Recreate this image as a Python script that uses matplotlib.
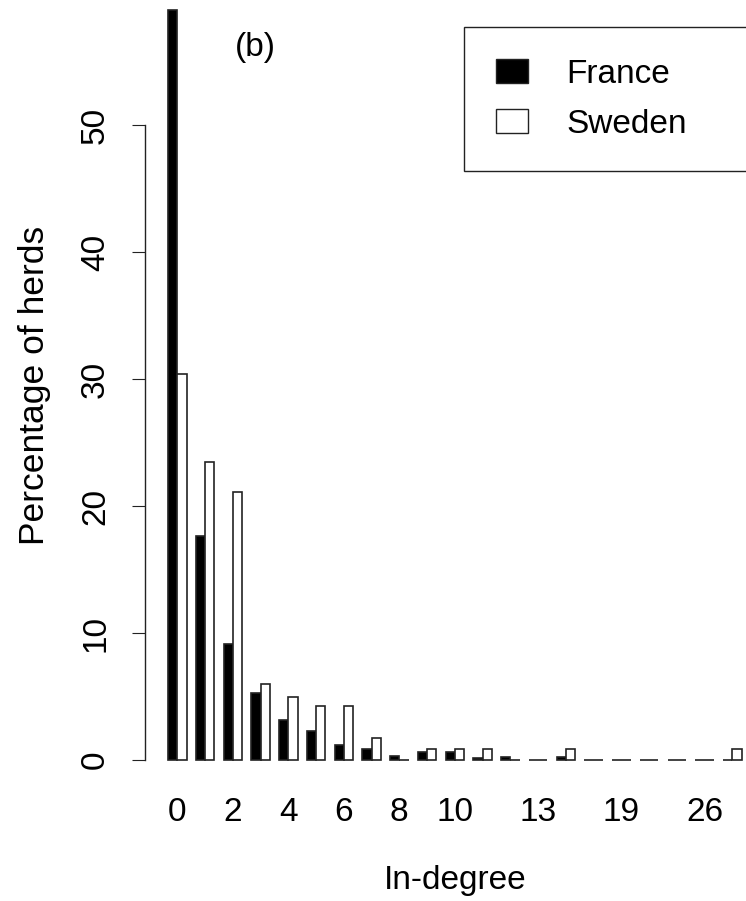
#!/usr/bin/env python3

"""
In-degree distribution of herds in the cattle movement networks,
France vs Sweden, drawn as side-by-side bars.
"""

import numpy as np
from matplotlib import pyplot as plt
from matplotlib.patches import Patch

# Setting Plot parameters
plt.rcParams['font.family'] = ['Liberation Sans', 'DejaVu Sans']
plt.rcParams['font.size'] = 24
plt.rcParams['axes.linewidth'] = 1

#### DATA ####
degrees = ['0', '1', '2', '3', '4', '5', '6', '7', '8', '9', '10', '11', '12',
           '13', '15', '17', '19', '21', '23', '26', '31']
shown = ['0', '2', '4', '6', '8', '10', '13', '19', '26']
france = [59.06, 17.6, 9.1, 5.25, 3.15, 2.28, 1.18, 0.87, 0.35, 0.6, 0.6,
          0.15, 0.2, 0.0, 0.2, 0.0, 0.0, 0.0, 0.0, 0.0, 0.0]
sweden = [30.4, 23.5, 21.1, 5.96, 4.98, 4.25, 4.25, 1.7, 0.0, 0.84, 0.84,
          0.84, 0.0, 0.0, 0.84, 0.0, 0.0, 0.0, 0.0, 0.0, 0.84]
y_ticks = [0, 10, 20, 30, 40, 50]

W, H = 746, 901
fig = plt.figure(figsize=(W / 100, H / 100), dpi=100)

# plot region in pixels (left, right, top, bottom), top runs past the edge
left, right, top, bottom = 145, 764.6, -20, 790
ax = fig.add_axes([left / W, (H - bottom) / H, (right - left) / W, (bottom - top) / H])

x = np.arange(len(degrees))
bw = 1 / 3
ax.bar(x - bw / 2, france, bw, color='black', edgecolor='#222222', linewidth=1.2)
ax.bar(x + bw / 2, sweden, bw, color='white', edgecolor='#222222', linewidth=1.2)

ymax = max(france)
ax.set_ylim(-0.04 * ymax, 1.04 * ymax)
ax.set_xlim(-1.164, len(degrees) - 1 + 1.164)

#### AXES, R STYLE ####
for s in ['top', 'right', 'bottom']:
    ax.spines[s].set_visible(False)
ax.spines['left'].set_bounds(0, 50)
ax.spines['left'].set_color('#222222')

ax.set_yticks(y_ticks)
ax.set_yticklabels([str(t) for t in y_ticks], rotation=90, va='center')
ax.tick_params(axis='y', length=9.4, width=0.8, pad=15, color='#222222')

tick_pos = [degrees.index(d) for d in shown]
ax.set_xticks(tick_pos)
ax.set_xticklabels(shown)
ax.tick_params(axis='x', length=0, pad=5)

ax.set_ylabel('Percentage of herds', va='center', fontsize=25.5)
ax.yaxis.set_label_coords((35 - left) / (right - left), (bottom - 385) / (bottom - top))
ax.set_xlabel('In-degree', va='center')
ax.xaxis.set_label_coords(0.5, (bottom - 880) / (bottom - top))

ax.text(2.8, 56.1, '(b)', ha='center', va='center')

#### LEGEND ####
handles = [Patch(facecolor='black', edgecolor='#222222', linewidth=1),
           Patch(facecolor='white', edgecolor='#222222', linewidth=1)]
leg = ax.legend(handles, ['France', 'Sweden'],
                bbox_to_anchor=(464 / W, 1 - 27 / H - 0.01, 330 / W, 0.01),
                bbox_transform=fig.transFigure, loc='upper left', mode='expand',
                borderaxespad=0, borderpad=0.95, labelspacing=0.57,
                handlelength=0.96, handleheight=0.72, handletextpad=1.17,
                fancybox=False, framealpha=1, edgecolor='#222222')
leg.get_frame().set_linewidth(1)

fig.savefig('out.png', dpi=100)
